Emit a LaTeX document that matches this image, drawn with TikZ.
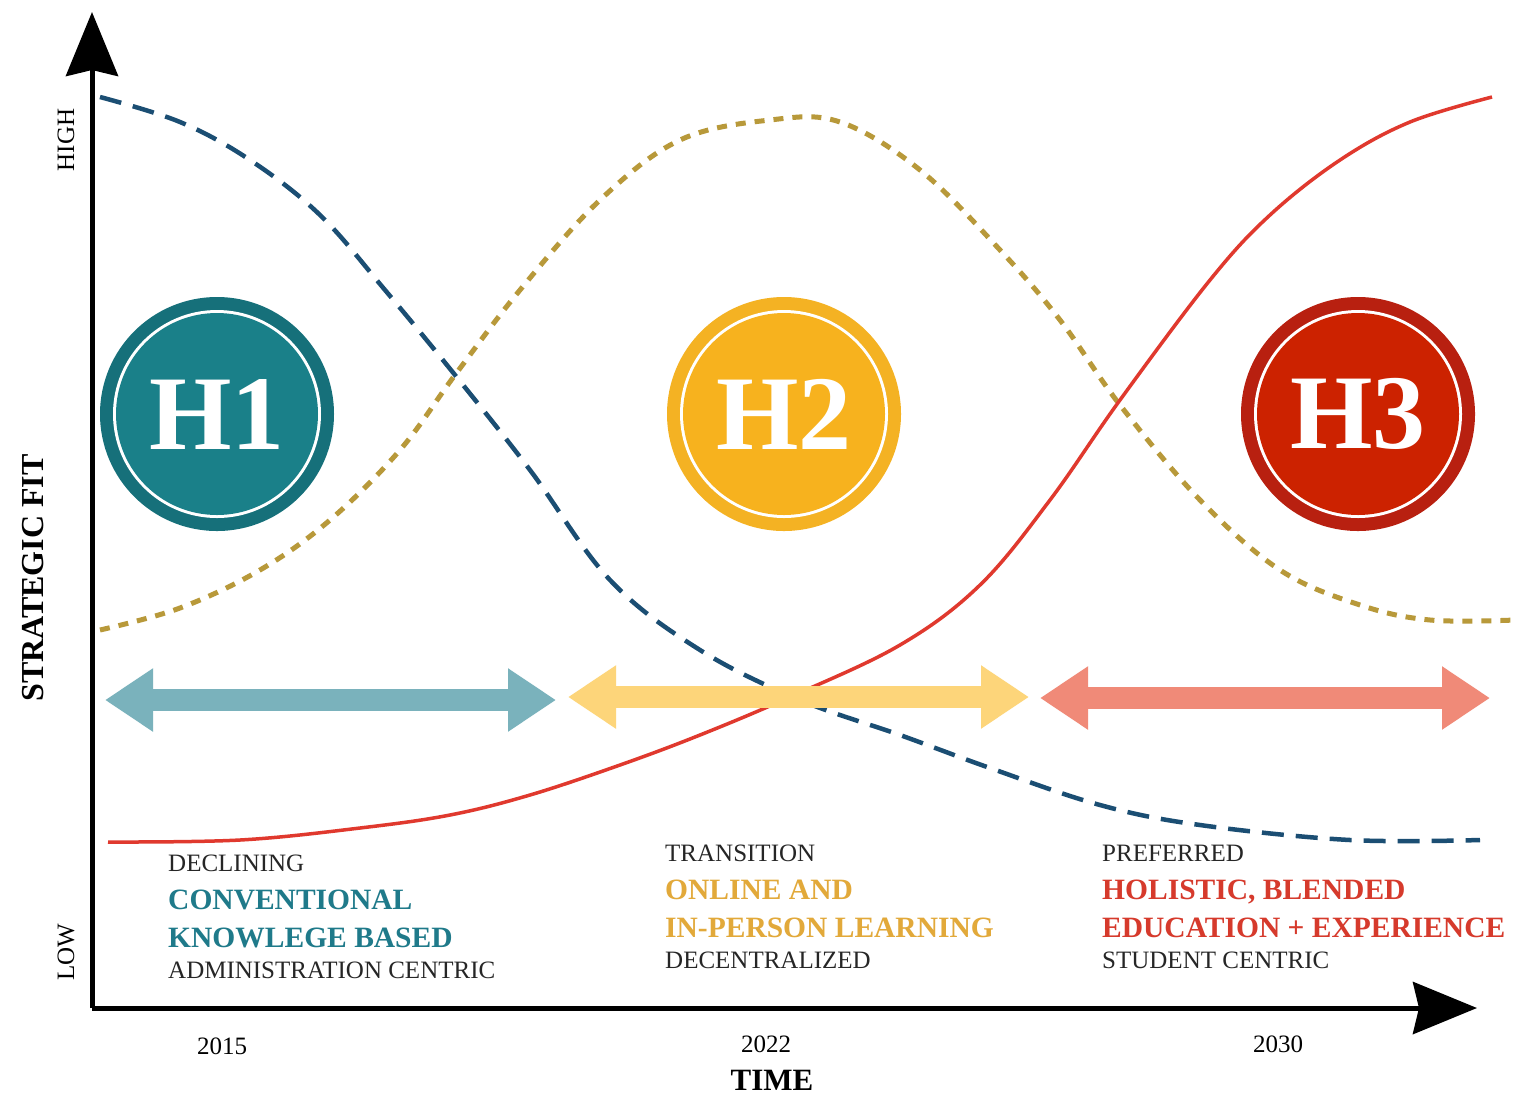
\documentclass[tikz,border=0pt]{standalone}
\usepackage{fontspec}
\setmainfont{Liberation Serif}
\usetikzlibrary{arrows.meta}
\definecolor{hOneDark}{RGB}{22,112,122}
\definecolor{hOneFill}{RGB}{26,128,137}
\definecolor{hTwoDark}{RGB}{244,178,35}
\definecolor{hTwoFill}{RGB}{247,178,30}
\definecolor{hThreeDark}{RGB}{184,32,16}
\definecolor{hThreeFill}{RGB}{204,34,0}
\definecolor{tealArrow}{RGB}{122,178,188}
\definecolor{goldArrow}{RGB}{253,213,122}
\definecolor{redArrow}{RGB}{240,138,120}
\definecolor{blueCurve}{RGB}{27,78,115}
\definecolor{goldCurve}{RGB}{184,153,58}
\definecolor{redCurve}{RGB}{224,57,46}
\definecolor{tealText}{RGB}{31,122,138}
\definecolor{goldText}{RGB}{226,169,58}
\definecolor{redText}{RGB}{214,58,44}
\tikzset{
  axis/.style={line width=5pt, -{Stealth[length=64pt,width=52pt,inset=6pt]}},
  horizon/.style={line width=22pt, {Triangle[length=48pt,width=60pt]}-{Triangle[length=48pt,width=60pt]}},
  small/.style={inner sep=0pt, anchor=north west, font=\fontsize{25}{28}\selectfont, text=black!85},
  strong/.style={inner sep=0pt, anchor=north west, font=\fontsize{29.5}{32}\selectfont\bfseries},
  badge/.style={circle, inner sep=0pt, minimum size=234pt, font=\fontsize{106}{106}\selectfont\bfseries, text=white}
}
\begin{document}
\begin{tikzpicture}[x=1pt,y=1pt,yscale=-1,xscale=1]
\useasboundingbox (0,0) rectangle (1522,1104);
\fill[white] (0,0) rectangle (1522,1104);

%Axes
\coordinate (O) at (92,1008);
\coordinate (ytop) at (92,12);
\coordinate (xend) at (1477,1008);
\draw[axis] (O) -- (ytop);
\draw[axis] (O) -- (xend);

%Circles
\node[badge, fill=hOneDark] (H1) at (217,414) {};
\node[badge, fill=hTwoDark] (H2) at (784,414) {};
\node[badge, fill=hThreeDark] (H3) at (1358,414) {};
\foreach \c/\col in {H1/hOneFill, H2/hTwoFill, H3/hThreeFill}{
  \fill[white] (\c) circle (104);
  \fill[\col] (\c) circle (101);
}
\node[badge] at (H1) {H1};
\node[badge] at (H2) {H2};
\node[badge] at (H3) {H3};

%Curves
\draw[blueCurve, line width=4.5pt, dash pattern=on 22pt off 12pt] plot[smooth, tension=0.6] coordinates {
  (100,97) (180,122) (250,160) (320,215) (385,290) (455,375) (530,470) (610,580) (700,650) (800,700)
  (900,735) (990,768) (1100,805) (1200,825) (1350,840) (1480,840)};
\draw[goldCurve, line width=5pt, dash pattern=on 10pt off 9pt] plot[smooth, tension=0.6] coordinates {
  (100,630) (180,608) (260,570) (330,520) (400,450) (455,375) (520,290) (600,200) (680,140) (770,120)
  (840,122) (920,170) (1000,250) (1060,320) (1120,405) (1200,500) (1280,570) (1360,605) (1430,620) (1515,620)};
\draw[redCurve, line width=3.5pt] plot[smooth, tension=0.6] coordinates {
  (108,842) (240,840) (360,828) (450,815) (530,795) (620,765) (700,735) (790,697) (900,645) (980,585)
  (1050,500) (1120,400) (1210,280) (1270,215) (1340,160) (1410,122) (1492,97)};

%Horizon arrows
\coordinate (a1) at (105,700);
\coordinate (b1) at (556,700);
\coordinate (a2) at (568,697);
\coordinate (b2) at (1029,697);
\coordinate (a3) at (1040,698);
\coordinate (b3) at (1490,698);
\draw[horizon, tealArrow] (a1) -- (b1);
\draw[horizon, goldArrow] (a2) -- (b2);
\draw[horizon, redArrow] (a3) -- (b3);

% Text Node
\node[small] (dec) at (168,855) {DECLINING};
\node[strong, text=tealText] (conv) at (168,890) {CONVENTIONAL};
\node[strong, text=tealText] (know) at (168,928) {KNOWLEGE BASED};
\node[small] (admin) at (168,962) {ADMINISTRATION CENTRIC};
% Text Node
\node[small] (trans) at (665,845) {TRANSITION};
\node[strong, text=goldText] (online) at (665,880) {ONLINE AND};
\node[strong, text=goldText] (inper) at (665,918) {IN-PERSON LEARNING};
\node[small] (decen) at (665,952) {DECENTRALIZED};
% Text Node
\node[small] (pref) at (1102,845) {PREFERRED};
\node[strong, text=redText] (holi) at (1102,880) {HOLISTIC, BLENDED};
\node[strong, text=redText] (educ) at (1102,918) {EDUCATION + EXPERIENCE};
\node[small] (stud) at (1102,952) {STUDENT CENTRIC};

% Axis labels
\node[rotate=90, inner sep=0pt, font=\fontsize{25}{28}\selectfont] (high) at (66,140) {HIGH};
\node[rotate=90, inner sep=0pt, font=\fontsize{25}{28}\selectfont] (low) at (66,952) {LOW};
\node[rotate=90, inner sep=0pt, font=\fontsize{32}{34}\selectfont\bfseries] (fit) at (33,578) {STRATEGIC FIT};
\node[inner sep=0pt, font=\fontsize{25}{28}\selectfont] (y15) at (222,1046) {2015};
\node[inner sep=0pt, font=\fontsize{25}{28}\selectfont] (y22) at (766,1044) {2022};
\node[inner sep=0pt, font=\fontsize{25}{28}\selectfont] (y30) at (1278,1044) {2030};
\node[inner sep=0pt, font=\fontsize{31}{34}\selectfont\bfseries] (time) at (772,1080) {TIME};
\end{tikzpicture}
\end{document}
